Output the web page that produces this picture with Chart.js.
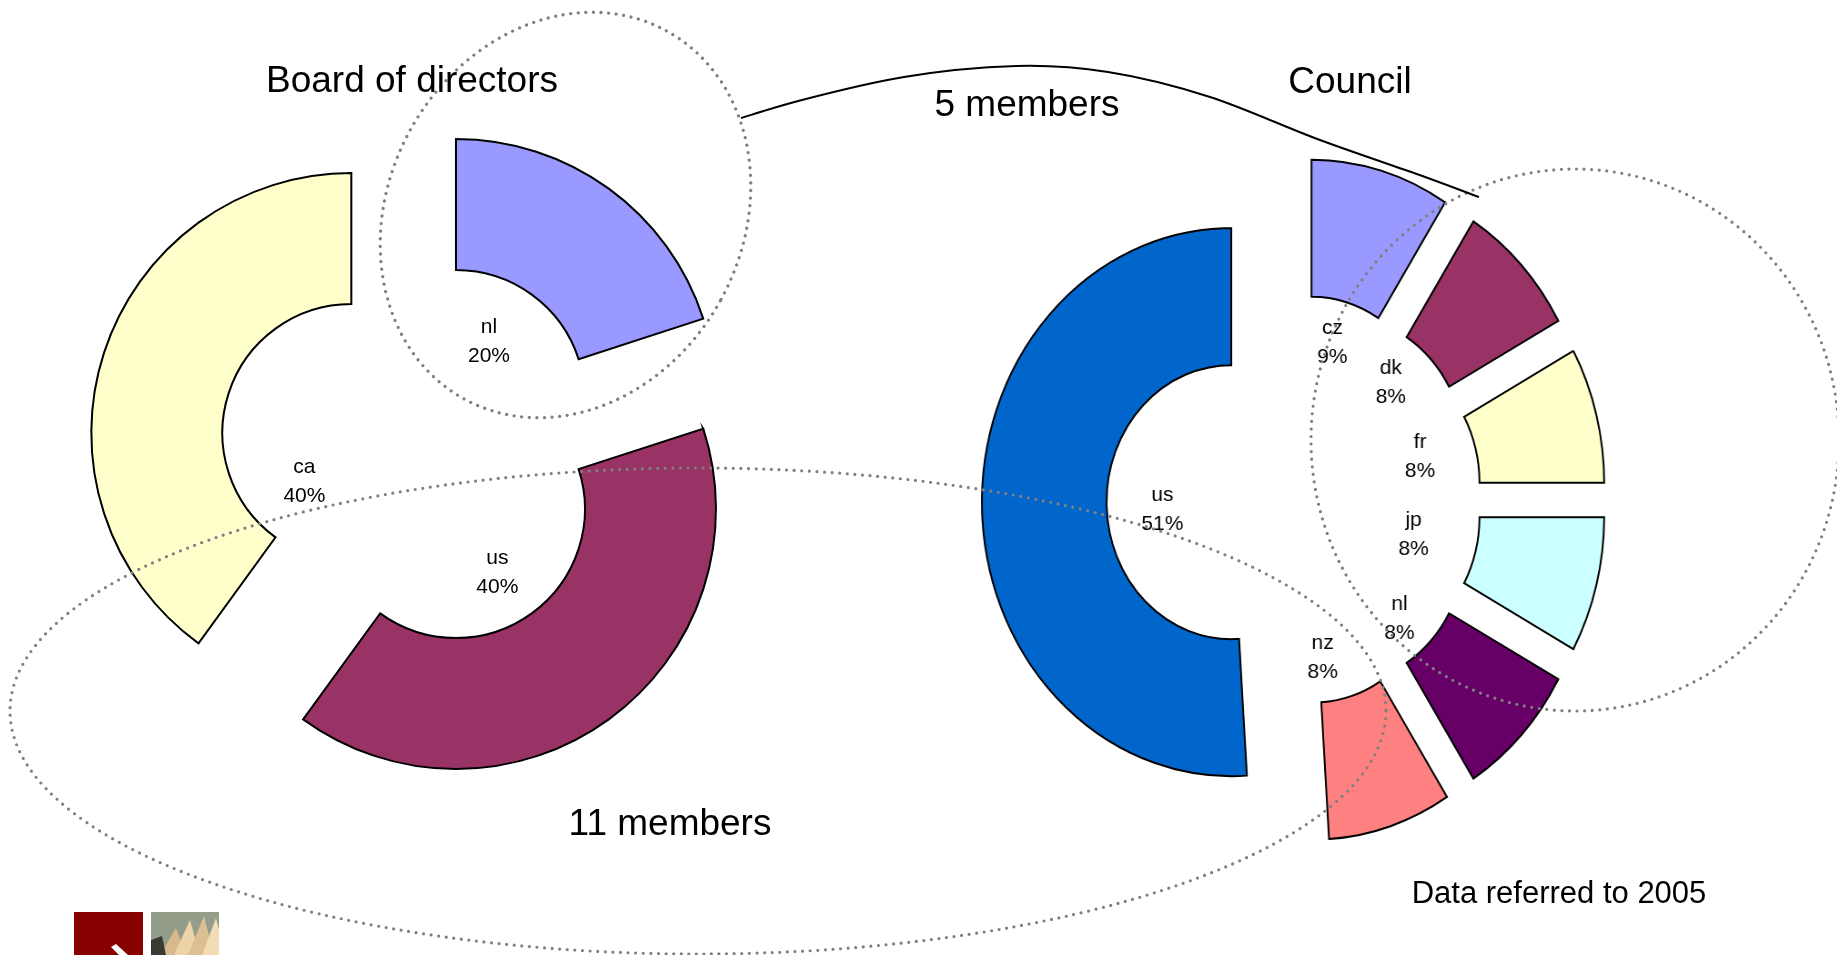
<!DOCTYPE html>
<html lang="en">
<head>
  <meta charset="UTF-8" />
  <title>Board of directors / Council</title>
  <script src="https://cdn.jsdelivr.net/npm/chart.js"></script>
  <style>
    html, body { margin: 0; padding: 0; background: #fff; }
    body { width: 1837px; height: 955px; position: relative; overflow: hidden; font-family: "Liberation Sans", Arial, sans-serif; }
    canvas { position: absolute; }
    #boardChart { left: 66px; top: 104px; }
    #councilChart { left: 914px; top: 120px; transform: scaleX(0.91); transform-origin: 380px 380px; }
    svg.overlay { position: absolute; left: 0; top: 0; pointer-events: none; }
    .dots { fill: none; stroke: #808080; stroke-width: 3.2; stroke-dasharray: 0 7.6; stroke-linecap: round; }
    .big { font-size: 37px; fill: #000; text-anchor: middle; }
  </style>
</head>
<body>

<canvas id="boardChart" width="700" height="700"></canvas>
<canvas id="councilChart" width="760" height="760"></canvas>

<svg class="overlay" width="1837" height="955" viewBox="0 0 1837 955">
  <!-- annotation rings -->
  <ellipse class="dots" cx="565.5" cy="215" rx="177" ry="210" transform="rotate(29 565.5 215)" />
  <ellipse class="dots" cx="698" cy="711" rx="688" ry="243" />
  <ellipse class="dots" cx="1575" cy="440" rx="264" ry="271" />
  <path d="M741,118 C751,115 775,107 802,100 C829,93 868,83 904,77 C940,71 982,67 1016,66
           C1050,65 1076,67 1108,72 C1140,77 1176,86 1210,97 C1244,108 1278,124 1312,137
           C1346,150 1386,163 1414,173 C1442,183 1468,193 1479,197"
        fill="none" stroke="#000" stroke-width="2" />

  <text class="big" x="412" y="92">Board of directors</text>
  <text class="big" x="1350" y="93">Council</text>
  <text class="big" x="1027" y="116">5 members</text>
  <text class="big" x="670" y="835">11 members</text>
  <text x="1559" y="903" font-size="31" text-anchor="middle">Data referred to 2005</text>

  <!-- logo -->
  <rect x="74" y="912" width="69" height="43" fill="#880000" />
  <polygon points="111,947 116,944 128,955 119,955" fill="#fff" />
  <rect x="151" y="912" width="68" height="43" fill="#949c8a" />
  <polygon points="160,955 176,928 186,955" fill="#d8b98c" />
  <polygon points="174,955 190,920 200,955" fill="#ecd3a8" />
  <polygon points="188,955 204,916 214,955" fill="#dcc094" />
  <polygon points="202,955 216,918 219,930 219,955" fill="#f1dcb4" />
  <polygon points="151,940 162,936 166,955 151,955" fill="#3b3a30" />
</svg>

<script>
  // Board of directors (share of members, %)
  const boardLabels = ['nl', 'us', 'ca'];
  const boardShares = [20, 40, 40];
  const boardColors = ['#9999FF', '#993366', '#FFFFCC'];

  // Council (share of members, %)
  const councilLabels = ['cz', 'dk', 'fr', 'jp', 'nl', 'nz', 'us'];
  const councilShares = [9, 8, 8, 8, 8, 8, 51];
  const councilColors = ['#9999FF', '#993366', '#FFFFCC', '#CCFFFF', '#660066', '#FF8080', '#0066CC'];

  // pulls every slice away from the centre along its middle angle
  const explode = {
    id: 'explode',
    beforeDatasetDraw(chart, args, opts) {
      const ctx = chart.ctx;
      args.meta.data.forEach(arc => {
        const mid = (arc.startAngle + arc.endAngle) / 2;
        ctx.save();
        ctx.translate(Math.cos(mid) * opts.distance, Math.sin(mid) * opts.distance);
        arc.draw(ctx);
        ctx.restore();
      });
      return false;
    }
  };

  // "name / NN%" written inside the ring
  const sliceLabels = {
    id: 'sliceLabels',
    afterDraw(chart, args, opts) {
      const ctx = chart.ctx;
      const meta = chart.getDatasetMeta(0);
      const values = chart.data.datasets[0].data;
      ctx.save();
      ctx.font = '21px "Liberation Sans", Arial, sans-serif';
      ctx.fillStyle = '#000';
      ctx.textAlign = 'center';
      ctx.textBaseline = 'middle';
      meta.data.forEach((arc, i) => {
        const a = (arc.startAngle + arc.endAngle) / 2 + (opts.shift[i] || 0) * Math.PI / 180;
        const r = opts.radius[i];
        ctx.save();
        ctx.translate(arc.x + Math.cos(a) * r, arc.y + Math.sin(a) * r);
        ctx.scale(opts.scaleX, 1);
        ctx.fillText(chart.data.labels[i], 0, -14.5);
        ctx.fillText(values[i] + '%', 0, 14.5);
        ctx.restore();
      });
      ctx.restore();
    }
  };

  function ring(id, labels, values, colors, radius, cutout, explodeBy, labelOpts) {
    return new Chart(document.getElementById(id), {
      type: 'doughnut',
      data: {
        labels,
        datasets: [{
          data: values,
          backgroundColor: colors,
          borderColor: '#000',
          borderWidth: 2,
          borderJoinStyle: 'miter'
        }]
      },
      options: {
        responsive: false,
        animation: false,
        events: [],
        radius,
        cutout,
        layout: { padding: 0 },
        plugins: {
          legend: { display: false },
          tooltip: { enabled: false },
          explode: { distance: explodeBy },
          sliceLabels: labelOpts
        }
      },
      plugins: [explode, sliceLabels]
    });
  }

  ring('boardChart', boardLabels, boardShares, boardColors, 260, '49.6%', 68, {
    radius: [134, 144, 115],
    shift: [-3, 1.6, -32],
    scaleX: 1
  });

  ring('councilChart', councilLabels, councilShares, councilColors, 274, '50%', 69, {
    radius: [163, 158, 145, 136, 166, 161, 145],
    shift: [-1.2, -4.5, -2.8, 0.6, 2.5, 6.7, -2.2],
    scaleX: 1 / 0.91
  });
</script>
</body>
</html>
